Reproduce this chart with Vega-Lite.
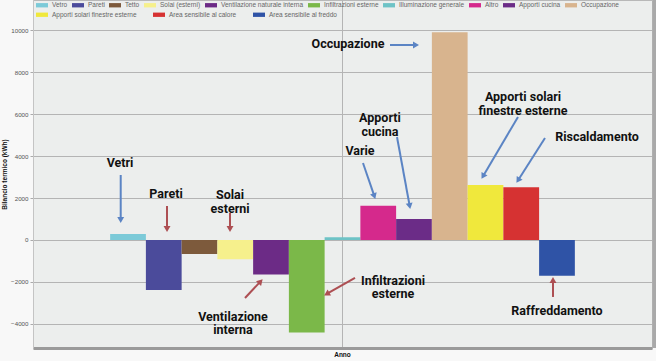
{
  "$schema": "https://vega.github.io/schema/vega-lite/v6.json",
  "width": 619,
  "height": 348,
  "autosize": {"type": "none"},
  "padding": {"left": 33, "top": 0, "right": 4, "bottom": 13},
  "background": "#f8f8f8",
  "config": {
    "view": {"fill": "#eceeed", "stroke": "#b8b8b8"},
    "font": "Liberation Sans, Roboto, sans-serif"
  },
  "datasets": {
    "bilancio": [
      {"periodo": "Anno", "voce": "Vetro", "kwh": 290},
      {"periodo": "Anno", "voce": "Pareti", "kwh": -2380},
      {"periodo": "Anno", "voce": "Tetto", "kwh": -670},
      {"periodo": "Anno", "voce": "Solai (esterni)", "kwh": -920},
      {"periodo": "Anno", "voce": "Ventilazione naturale interna", "kwh": -1650},
      {"periodo": "Anno", "voce": "Infiltrazioni esterne", "kwh": -4410},
      {"periodo": "Anno", "voce": "Illuminazione generale", "kwh": 130},
      {"periodo": "Anno", "voce": "Altro", "kwh": 1630},
      {"periodo": "Anno", "voce": "Apporti cucina", "kwh": 1000},
      {"periodo": "Anno", "voce": "Occupazione", "kwh": 9900},
      {"periodo": "Anno", "voce": "Apporti solari finestre esterne", "kwh": 2620},
      {"periodo": "Anno", "voce": "Area sensibile al calore", "kwh": 2510},
      {"periodo": "Anno", "voce": "Area sensibile al freddo", "kwh": -1700}
    ],
    "etichette": [
      {"ix": -0.22, "v": 3670, "testo": "Vetri"},
      {"ix": 1.066, "v": 2192, "testo": "Pareti"},
      {"ix": 2.855, "v": 2121, "testo": "Solai\nesterni"},
      {"ix": 2.939, "v": -3670, "testo": "Ventilazione\ninterna"},
      {"ix": 7.412, "v": -1954, "testo": "Infiltrazioni\nesterne"},
      {"ix": 6.489, "v": 4242, "testo": "Varie"},
      {"ix": 7.048, "v": 5791, "testo": "Apporti\ncucina"},
      {"ix": 6.154, "v": 9341, "testo": "Occupazione"},
      {"ix": 11.046, "v": 6815, "testo": "Apporti solari\nfinestre esterne"},
      {"ix": 13.115, "v": 4909, "testo": "Riscaldamento"},
      {"ix": 11.997, "v": -3384, "testo": "Raffreddamento"}
    ],
    "frecce": [
      {"x1": -0.201, "y1": 3098, "x2": -0.201, "y2": 1001, "hx": -0.201, "hy": 1001, "dir": 180, "tono": "blu"},
      {"x1": 1.094, "y1": 1620, "x2": 1.094, "y2": 572, "hx": 1.094, "hy": 572, "dir": 180, "tono": "rosso"},
      {"x1": 2.855, "y1": 1287, "x2": 2.855, "y2": 572, "hx": 2.855, "hy": 572, "dir": 180, "tono": "rosso"},
      {"x1": 3.274, "y1": -2764, "x2": 3.691, "y2": -2011, "hx": 3.691, "hy": -2011, "dir": 43, "tono": "rosso"},
      {"x1": 6.349, "y1": -1811, "x2": 5.583, "y2": -2550, "hx": 5.583, "hy": -2550, "dir": 240.5, "tono": "rosso"},
      {"x1": 6.573, "y1": 3670, "x2": 6.881, "y2": 2135, "hx": 6.881, "hy": 2135, "dir": 161, "tono": "blu"},
      {"x1": 7.524, "y1": 4909, "x2": 7.873, "y2": 1668, "hx": 7.873, "hy": 1668, "dir": 169.6, "tono": "blu"},
      {"x1": 7.328, "y1": 9294, "x2": 8.027, "y2": 9294, "hx": 8.027, "hy": 9294, "dir": 90, "tono": "blu"},
      {"x1": 10.906, "y1": 5862, "x2": 9.942, "y2": 3079, "hx": 9.942, "hy": 3079, "dir": 210.5, "tono": "blu"},
      {"x1": 11.661, "y1": 4861, "x2": 10.923, "y2": 2883, "hx": 10.923, "hy": 2883, "dir": 212.5, "tono": "blu"},
      {"x1": 11.885, "y1": -2717, "x2": 11.885, "y2": -1954, "hx": 11.885, "hy": -1954, "dir": 0, "tono": "rosso"}
    ]
  },
  "layer": [
    {
      "data": {"name": "bilancio"},
      "encoding": {
        "x": {
          "field": "periodo", "type": "nominal",
          "scale": {"paddingInner": 0, "paddingOuter": 0.166},
          "axis": {
            "title": null, "labelAngle": 0, "ticks": false,
            "labelFontSize": 6.5, "labelFontWeight": "bold", "labelColor": "#111", "labelPadding": 3,
            "domainColor": "#9a9a9a", "domainWidth": 3,
            "grid": true, "gridColor": "#b4b4b4", "bandPosition": 0.5
          }
        },
        "xOffset": {
          "field": "voce", "type": "nominal",
          "sort": ["Vetro", "Pareti", "Tetto", "Solai (esterni)", "Ventilazione naturale interna", "Infiltrazioni esterne", "Illuminazione generale", "Altro", "Apporti cucina", "Occupazione", "Apporti solari finestre esterne", "Area sensibile al calore", "Area sensibile al freddo"],
          "scale": {"domain": ["Vetro", "Pareti", "Tetto", "Solai (esterni)", "Ventilazione naturale interna", "Infiltrazioni esterne", "Illuminazione generale", "Altro", "Apporti cucina", "Occupazione", "Apporti solari finestre esterne", "Area sensibile al calore", "Area sensibile al freddo"], "paddingInner": 0, "paddingOuter": 0}
        },
        "y": {
          "field": "kwh", "type": "quantitative",
          "scale": {"domain": [-5150, 11440], "nice": false, "zero": false},
          "axis": {
            "title": "Bilancio termico (kWh)", "titleFontSize": 6.5, "titleFontWeight": "bold", "titleColor": "#111", "titlePadding": 3,
            "values": [-4000, -2000, 0, 2000, 4000, 6000, 8000, 10000], "format": "d",
            "labelFontSize": 6.2, "labelColor": "#555", "labelPadding": 2,
            "tickSize": 3, "tickColor": "#aaa", "domainColor": "#c4c4c4",
            "gridColor": "#b4b4b4"
          }
        }
      },
      "layer": [
        {
          "transform": [{"filter": {"field": "voce", "oneOf": ["Vetro", "Pareti", "Tetto", "Solai (esterni)", "Ventilazione naturale interna", "Infiltrazioni esterne", "Illuminazione generale", "Altro", "Apporti cucina", "Occupazione"]}}],
          "mark": {"type": "bar"},
          "encoding": {
            "color": {
              "field": "voce", "type": "nominal",
              "scale": {
                "domain": ["Vetro", "Pareti", "Tetto", "Solai (esterni)", "Ventilazione naturale interna", "Infiltrazioni esterne", "Illuminazione generale", "Altro", "Apporti cucina", "Occupazione"],
                "range": ["#7ccad8", "#4b4b9b", "#7d5a3c", "#f6f08c", "#6c2b86", "#7bb849", "#6ec3c6", "#d5298c", "#6b2c87", "#d8b48e"]
              },
              "legend": {
                "title": null, "orient": "none", "legendX": 3, "legendY": -1,
                "direction": "horizontal",
                "symbolType": "M-1,-0.36H1V0.36H-1Z", "symbolSize": 144, "symbolStrokeWidth": 0,
                "labelFontSize": 6.5, "labelColor": "#666", "labelOffset": 4,
                "columnPadding": 4, "padding": 0
              }
            }
          }
        },
        {
          "transform": [{"filter": {"field": "voce", "oneOf": ["Apporti solari finestre esterne", "Area sensibile al calore", "Area sensibile al freddo"]}}],
          "mark": {"type": "bar"},
          "encoding": {
            "color": {
              "field": "voce", "type": "nominal",
              "scale": {
                "domain": ["Apporti solari finestre esterne", "Area sensibile al calore", "Area sensibile al freddo"],
                "range": ["#f0e83c", "#d63232", "#2f53a6"]
              },
              "legend": {
                "title": null, "orient": "none", "legendX": 3, "legendY": 8.5,
                "direction": "horizontal",
                "symbolType": "M-1,-0.36H1V0.36H-1Z", "symbolSize": 144, "symbolStrokeWidth": 0,
                "labelFontSize": 6.5, "labelColor": "#666", "labelOffset": 4,
                "columnPadding": 16, "padding": 0
              }
            }
          }
        }
      ],
      "resolve": {"scale": {"color": "independent"}}
    },
    {
      "encoding": {
        "x": {"type": "quantitative", "scale": {"domain": [-2.653, 14.653], "nice": false, "zero": false}, "axis": null}
      },
      "layer": [
        {
          "data": {"values": [{"bordo": "destro"}]},
          "mark": {"type": "rule", "strokeWidth": 4, "color": "#a9a9a9"},
          "encoding": {"x": {"datum": 14.72, "type": "quantitative"}}
        },
        {
          "data": {"name": "frecce"},
          "mark": {"type": "rule", "strokeWidth": 2},
          "encoding": {
            "x": {"field": "x1", "type": "quantitative"},
            "y": {"field": "y1", "type": "quantitative"},
            "x2": {"field": "x2"},
            "y2": {"field": "y2"},
            "color": {"field": "tono", "type": "nominal", "scale": {"domain": ["blu", "rosso"], "range": ["#5b84c4", "#ad4f53"]}, "legend": null}
          }
        },
        {
          "data": {"name": "frecce"},
          "mark": {"type": "point", "shape": "triangle", "filled": true, "size": 48, "opacity": 1},
          "encoding": {
            "x": {"field": "hx", "type": "quantitative"},
            "y": {"field": "hy", "type": "quantitative"},
            "angle": {"field": "dir", "type": "quantitative", "scale": {"domain": [0, 360], "range": [0, 360]}},
            "color": {"field": "tono", "type": "nominal", "scale": {"domain": ["blu", "rosso"], "range": ["#5b84c4", "#ad4f53"]}, "legend": null}
          }
        },
        {
          "data": {"name": "etichette"},
          "mark": {"type": "text", "font": "Roboto, Liberation Sans, sans-serif", "fontSize": 12.5, "fontWeight": "bold", "color": "#111", "lineBreak": "\n", "lineHeight": 13.5, "baseline": "middle", "align": "center"},
          "encoding": {
            "x": {"field": "ix", "type": "quantitative"},
            "y": {"field": "v", "type": "quantitative"},
            "text": {"field": "testo", "type": "nominal"}
          }
        }
      ]
    }
  ],
  "resolve": {"scale": {"x": "independent", "color": "independent"}}
}
